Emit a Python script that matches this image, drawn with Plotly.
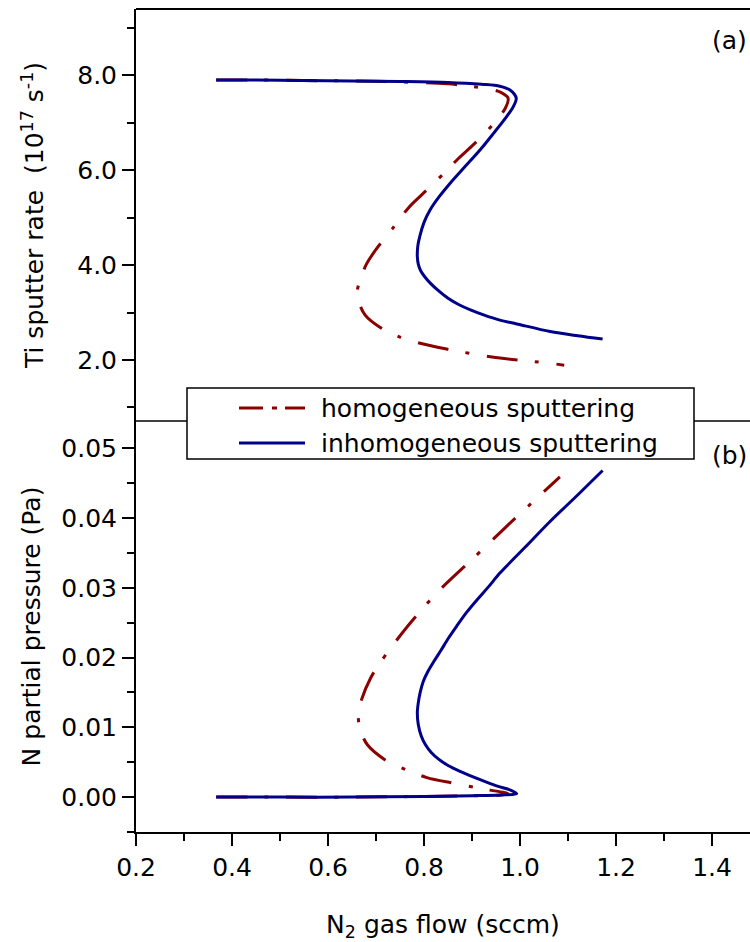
import plotly.graph_objects as go

# ---------------- data ----------------
series_names = ["homogeneous sputtering", "inhomogeneous sputtering"]

# (a) Ti sputter rate (10^17 s^-1) vs N2 gas flow (sccm)
ti_inhom_flow = [0.367, 0.45, 0.542, 0.65, 0.75, 0.85, 0.92, 0.958, 0.979, 0.992, 0.986, 0.972,
                 0.945, 0.917, 0.885, 0.854, 0.830, 0.8125, 0.800, 0.791, 0.787, 0.786, 0.788,
                 0.793, 0.801, 0.813, 0.830, 0.850, 0.872, 0.898, 0.924, 0.958, 0.993, 1.0625,
                 1.12, 1.172]
ti_inhom_rate = [7.90, 7.90, 7.89, 7.88, 7.87, 7.85, 7.81, 7.77, 7.69, 7.52, 7.34, 7.13,
                 6.78, 6.43, 6.07, 5.72, 5.42, 5.16, 4.90, 4.60, 4.40, 4.18, 4.02,
                 3.88, 3.76, 3.62, 3.46, 3.30, 3.17, 3.05, 2.95, 2.84, 2.76, 2.60,
                 2.51, 2.44]

ti_hom_flow = [0.367, 0.45, 0.55, 0.65, 0.75, 0.85, 0.93, 0.960, 0.975, 0.969, 0.93, 0.899,
               0.868, 0.826, 0.795, 0.767, 0.735, 0.70, 0.68, 0.667, 0.661, 0.663, 0.677,
               0.708, 0.75, 0.785, 0.847, 0.90, 0.958, 1.0625, 1.092]
ti_hom_rate = [7.90, 7.90, 7.89, 7.88, 7.86, 7.82, 7.72, 7.64, 7.52, 7.30, 6.81, 6.50,
               6.21, 5.78, 5.48, 5.20, 4.78, 4.33, 4.02, 3.69, 3.46, 3.26, 2.95,
               2.69, 2.48, 2.37, 2.23, 2.13, 2.04, 1.93, 1.89]

# (b) N partial pressure (Pa) vs N2 gas flow (sccm)
pn_inhom_flow = [0.367, 0.5, 0.65, 0.8, 0.9, 0.96, 0.993, 0.980, 0.951, 0.917, 0.875, 0.851,
                 0.831, 0.815, 0.803, 0.794, 0.788, 0.786, 0.788, 0.792, 0.798, 0.808, 0.821,
                 0.835, 0.851, 0.868, 0.889, 0.912, 0.935, 0.958, 1.0104, 1.0625, 1.12, 1.172]
pn_inhom_p = [0.0000, 0.0000, 0.0000, 0.0001, 0.0002, 0.0003, 0.0005, 0.0010, 0.0016, 0.0025,
              0.0037, 0.0045, 0.0054, 0.0064, 0.0075, 0.0088, 0.0104, 0.0121, 0.0135, 0.0150,
              0.0165, 0.0180, 0.0195, 0.0210, 0.0228, 0.0245, 0.0265, 0.0284, 0.0302, 0.0321,
              0.0358, 0.0395, 0.0433, 0.0468]

pn_hom_flow = [0.367, 0.5, 0.65, 0.8, 0.9, 0.96, 0.975, 0.965, 0.9375, 0.861, 0.806, 0.753,
               0.722, 0.682, 0.667, 0.663, 0.670, 0.689, 0.708, 0.767, 0.833, 0.899, 0.972,
               1.028, 1.083]
pn_hom_p = [0.0000, 0.0000, 0.0000, 0.0001, 0.0002, 0.0003, 0.0005, 0.0007, 0.0010, 0.0020,
            0.0028, 0.0042, 0.0052, 0.0075, 0.0097, 0.0118, 0.0140, 0.0171, 0.0192, 0.0246,
            0.0297, 0.0340, 0.0388, 0.0424, 0.0459]

x_range = [0.2, 1.479]
ya_range = [0.714, 9.397]
yb_range = [-0.005, 0.0539]

# ---------------- layout geometry ----------------
W, H = 750, 942
L, R, T, B = 136, 0, 9, 110
PW, PH = W - L - R, H - T - B


def px(xp):
    return (xp - L) / PW


def py(yp):
    return (H - B - yp) / PH


split = py(421)
RED = "#8B0000"
BLUE = "#00008B"
FONT = "DejaVu Sans, sans-serif"

fig = go.Figure()
line_red = dict(color=RED, width=3, dash="31px,17px,4px,18px")
line_blue = dict(color=BLUE, width=3)

fig.add_trace(go.Scatter(x=ti_hom_flow, y=ti_hom_rate, mode="lines", name=series_names[0],
                         line=dict(**line_red, shape="spline", smoothing=0.9),
                         xaxis="x", yaxis="y", showlegend=False))
fig.add_trace(go.Scatter(x=ti_inhom_flow, y=ti_inhom_rate, mode="lines", name=series_names[1],
                         line=dict(**line_blue, shape="spline", smoothing=0.9),
                         xaxis="x", yaxis="y", showlegend=False))
fig.add_trace(go.Scatter(x=pn_hom_flow, y=pn_hom_p, mode="lines", name=series_names[0],
                         line=dict(**line_red, shape="spline", smoothing=0.9),
                         xaxis="x2", yaxis="y2", showlegend=False))
fig.add_trace(go.Scatter(x=pn_inhom_flow, y=pn_inhom_p, mode="lines", name=series_names[1],
                         line=dict(**line_blue, shape="spline", smoothing=0.9),
                         xaxis="x2", yaxis="y2", showlegend=False))

tickfont = dict(family=FONT, size=25, color="black")
titlefont = dict(family=FONT, size=25, color="black")
common_y = dict(showline=True, linewidth=2, linecolor="black", ticks="outside", ticklen=12,
                tickwidth=2, tickcolor="black", showgrid=False, zeroline=False,
                tickfont=tickfont)

fig.update_layout(
    width=W, height=H,
    margin=dict(l=L, r=R, t=T, b=B),
    paper_bgcolor="white", plot_bgcolor="white",
    font=dict(family=FONT, color="black"),
    xaxis=dict(domain=[0, 1], anchor="y", range=x_range, matches="x2", showticklabels=False,
               ticks="", showline=False, showgrid=False, zeroline=False),
    yaxis=dict(domain=[split, 1], anchor="x", range=ya_range, dtick=2, tick0=0,
               tickformat=".1f",
               minor=dict(dtick=1, tick0=0, ticks="outside", ticklen=7, tickwidth=2,
                          tickcolor="black"),
               title=dict(text="Ti sputter rate  (10<sup>17</sup> s<sup>-1</sup>)",
                          font=titlefont, standoff=26),
               **common_y),
    xaxis2=dict(domain=[0, 1], anchor="y2", range=x_range, dtick=0.2, tick0=0.2,
                tickformat=".1f", showline=True, linewidth=2, linecolor="black",
                ticks="outside", ticklen=12, tickwidth=2, tickcolor="black",
                showgrid=False, zeroline=False, tickfont=tickfont,
                minor=dict(dtick=0.1, tick0=0.2, ticks="outside", ticklen=7, tickwidth=2,
                           tickcolor="black"),
                title=dict(text="N<sub>2</sub> gas flow (sccm)", font=titlefont, standoff=36)),
    yaxis2=dict(domain=[0, split], anchor="x2", range=yb_range, dtick=0.01, tick0=0,
                tickformat=".2f",
                minor=dict(dtick=0.005, tick0=0, ticks="outside", ticklen=7, tickwidth=2,
                           tickcolor="black"),
                title=dict(text="N partial pressure (Pa)", font=titlefont, standoff=14),
                **common_y),
)

shapes = [
    # top frame line and panel divider
    dict(type="line", xref="paper", yref="paper", x0=0, x1=1, y0=1, y1=1,
         line=dict(color="black", width=2), layer="above"),
    dict(type="line", xref="paper", yref="paper", x0=0, x1=1, y0=split, y1=split,
         line=dict(color="black", width=1.5), layer="above"),
    # legend box
    dict(type="rect", xref="paper", yref="paper", x0=px(187), x1=px(694), y0=py(459), y1=py(388),
         line=dict(color="black", width=1.5), fillcolor="white", layer="above"),
    dict(type="line", xref="paper", yref="paper", x0=px(239), x1=px(305), y0=py(408), y1=py(408),
         line=dict(color=RED, width=3, dash="24px,9px,5px,8px"), layer="above"),
    dict(type="line", xref="paper", yref="paper", x0=px(239), x1=px(305), y0=py(443), y1=py(443),
         line=dict(color=BLUE, width=3), layer="above"),
]
fig.update_layout(shapes=shapes)

legfont = dict(family=FONT, size=25, color="black")
annotations = [
    dict(text=series_names[0], xref="paper", yref="paper", x=px(319), y=py(408),
         xanchor="left", yanchor="middle", showarrow=False, font=legfont),
    dict(text=series_names[1], xref="paper", yref="paper", x=px(319), y=py(443),
         xanchor="left", yanchor="middle", showarrow=False, font=legfont),
    dict(text="(a)", xref="paper", yref="paper", x=px(749), y=py(41),
         xanchor="right", yanchor="middle", showarrow=False,
         font=dict(family=FONT, size=25, color="black")),
    dict(text="(b)", xref="paper", yref="paper", x=px(749), y=py(455),
         xanchor="right", yanchor="middle", showarrow=False,
         font=dict(family=FONT, size=25, color="black")),
]
fig.update_layout(annotations=annotations)

fig.write_html("out.html")
